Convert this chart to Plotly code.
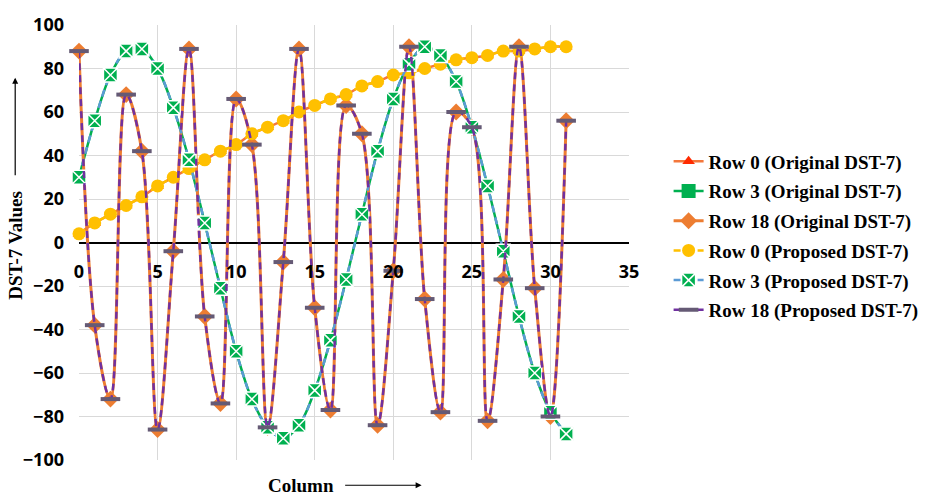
import plotly.graph_objects as go

columns = list(range(32))
row0 = [4, 9, 13, 17, 21, 26, 30, 34, 38, 42, 45, 50, 53, 56, 60, 63,
        66, 68, 72, 74, 77, 78, 80, 82, 84, 85, 86, 88, 88, 89, 90, 90]
row3 = [30, 56, 77, 88, 89, 80, 62, 38, 9, -21, -50, -72, -85, -90, -84, -68,
        -45, -17, 13, 42, 66, 82, 90, 86, 74, 53, 26, -4, -34, -60, -78, -88]
row18 = [88, -38, -72, 68, 42, -86, -4, 89, -34, -74, 66, 45, -85, -9, 89, -30,
         -77, 63, 50, -84, -13, 90, -26, -78, 60, 53, -82, -17, 90, -21, -80, 56]

row0_prop = list(row0)
row3_prop = list(row3)
row18_prop = list(row18)

names = ["Row 0 (Original DST-7)", "Row 3 (Original DST-7)", "Row 18 (Original DST-7)",
         "Row 0 (Proposed DST-7)", "Row 3 (Proposed DST-7)", "Row 18 (Proposed DST-7)"]

fig = go.Figure()
common = dict(mode="lines+markers", line_shape="spline", cliponaxis=False)

fig.add_trace(go.Scatter(x=columns, y=row0, name=names[0], legendgroup="g0",
                         line=dict(color="#F4773B", width=2.5),
                         marker=dict(symbol="triangle-up", size=11, color="#FF2A00"), **common))
fig.add_trace(go.Scatter(x=columns, y=row3, name=names[1], legendgroup="g1",
                         line=dict(color="#00B050", width=2.5),
                         marker=dict(symbol="square", size=14, color="#00B050"), **common))
fig.add_trace(go.Scatter(x=columns, y=row18, name=names[2], legendgroup="g2",
                         line=dict(color="#ED7D31", width=3),
                         marker=dict(symbol="diamond", size=13, color="#ED7D31"), **common))
fig.add_trace(go.Scatter(x=columns, y=row0_prop, name=names[3], legendgroup="g3",
                         line=dict(color="#FFC000", width=2.5, dash="7px,5px"),
                         marker=dict(symbol="circle", size=13, color="#FFC000"), **common))
fig.add_trace(go.Scatter(x=columns, y=row3_prop, name=names[4], legendgroup="g4",
                         line=dict(color="#5B9BD5", width=2.5, dash="7px,5px"),
                         marker=dict(symbol="square-x", size=14, color="#00B050",
                                     line=dict(color="white", width=1.5)), **common))
fig.add_trace(go.Scatter(x=columns, y=row18_prop, name=names[5], legendgroup="g5",
                         line=dict(color="#7030A0", width=2.5, dash="7px,5px"),
                         marker=dict(symbol="line-ew", size=14, color="#655A75",
                                     line=dict(color="#655A75", width=4)), **common))

tick_font = dict(family="Open Sans", size=18, color="black", weight="bold")
serif_font = dict(family="Liberation Serif", size=19, color="black", weight="bold")

fig.update_layout(
    width=936, height=497,
    margin=dict(l=79, r=305, t=14, b=37),
    paper_bgcolor="white", plot_bgcolor="white",
    showlegend=True,
    legend=dict(x=1.072, y=0.73, xanchor="left", yanchor="top",
                font=dict(family="Liberation Serif", size=19, color="black", weight="bold"),
                bgcolor="rgba(0,0,0,0)", tracegroupgap=2),
    xaxis=dict(range=[0, 35], dtick=5, tick0=0, showgrid=True, gridcolor="#D9D9D9",
               gridwidth=1, zeroline=False, showline=False, anchor="free", position=0.5,
               tickfont=tick_font, ticklabelstandoff=16, ticks=""),
    yaxis=dict(range=[-100, 100], dtick=20, tick0=0, showgrid=True, gridcolor="#D9D9D9",
               gridwidth=1, zeroline=True, zerolinecolor="black", zerolinewidth=1.5,
               showline=False, tickfont=tick_font, ticklabelstandoff=14, ticks=""),
    annotations=[
        dict(text="DST-7 Values", xref="paper", yref="paper", x=-0.116, y=0.493,
             textangle=-90, showarrow=False, xanchor="center", yanchor="middle",
             font=serif_font),
        dict(text="", xref="paper", yref="paper", x=-0.116, y=0.879, ax=0, ay=99,
             showarrow=True, arrowhead=2, arrowsize=1, arrowwidth=1.2, arrowcolor="black",
             standoff=0, startstandoff=0),
        dict(text="Column", xref="paper", yref="paper", x=0.404, y=-0.058,
             showarrow=False, xanchor="center", yanchor="middle",
             font=serif_font),
        dict(text="", xref="paper", yref="paper", x=0.623, y=-0.058, ax=-78, ay=0,
             showarrow=True, arrowhead=2, arrowsize=1, arrowwidth=1.2, arrowcolor="black",
             standoff=0, startstandoff=0),
    ],
)

fig.write_html("out.html")
